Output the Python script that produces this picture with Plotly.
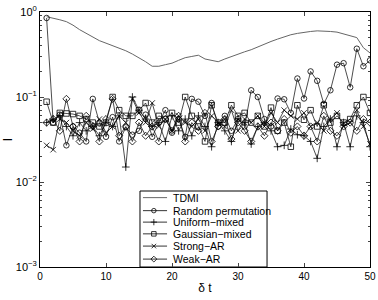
import plotly.graph_objects as go

x_vals = list(range(1, 51))

tdmi = [0.88, 0.85, 0.81, 0.77, 0.70, 0.62, 0.56, 0.51, 0.46, 0.43,
        0.40, 0.38, 0.35, 0.32, 0.29, 0.26, 0.23, 0.23, 0.24, 0.25,
        0.27, 0.29, 0.30, 0.31, 0.28, 0.27, 0.26, 0.28, 0.30, 0.32,
        0.34, 0.36, 0.39, 0.42, 0.45, 0.48, 0.51, 0.54, 0.56, 0.58,
        0.59, 0.60, 0.60, 0.59, 0.58, 0.55, 0.53, 0.50, 0.38, 0.33]

random_perm = [0.85, 0.05, 0.062, 0.027, 0.045, 0.038, 0.03, 0.095, 0.05, 0.034,
               0.058, 0.03, 0.044, 0.036, 0.04, 0.062, 0.034, 0.05, 0.07, 0.038,
               0.055, 0.034, 0.095, 0.088, 0.06, 0.085, 0.045, 0.06, 0.04, 0.055,
               0.045, 0.12, 0.1, 0.055, 0.045, 0.096, 0.094, 0.065, 0.165, 0.096,
               0.2, 0.155, 0.083, 0.12, 0.24, 0.25, 0.13, 0.37, 0.23, 0.27]

uniform_mixed = [0.05, 0.055, 0.06, 0.045, 0.035, 0.05, 0.04, 0.045, 0.035, 0.05,
                 0.045, 0.06, 0.015, 0.1, 0.07, 0.055, 0.045, 0.05, 0.03, 0.06,
                 0.04, 0.055, 0.035, 0.06, 0.045, 0.026, 0.05, 0.04, 0.03, 0.055,
                 0.05, 0.028, 0.045, 0.05, 0.04, 0.026, 0.027, 0.042, 0.036, 0.035,
                 0.03, 0.019, 0.045, 0.055, 0.026, 0.05, 0.026, 0.06, 0.05, 0.026]

gaussian_mixed = [0.088, 0.05, 0.065, 0.064, 0.063, 0.06, 0.055, 0.05, 0.045, 0.05,
                  0.1, 0.07, 0.06, 0.06, 0.07, 0.085, 0.05, 0.06, 0.055, 0.065,
                  0.05, 0.1, 0.06, 0.045, 0.03, 0.08, 0.05, 0.05, 0.08, 0.06,
                  0.065, 0.05, 0.06, 0.045, 0.075, 0.04, 0.05, 0.026, 0.08, 0.054,
                  0.07, 0.045, 0.08, 0.05, 0.06, 0.05, 0.055, 0.08, 0.1, 0.065]

strong_ar = [0.027, 0.024, 0.055, 0.05, 0.04, 0.035, 0.05, 0.042, 0.055, 0.038,
             0.045, 0.06, 0.05, 0.095, 0.065, 0.05, 0.085, 0.045, 0.055, 0.04,
             0.06, 0.05, 0.045, 0.055, 0.04, 0.06, 0.05, 0.045, 0.07, 0.04,
             0.055, 0.05, 0.06, 0.045, 0.065, 0.05, 0.07, 0.06, 0.055, 0.065,
             0.045, 0.05, 0.04, 0.055, 0.065, 0.045, 0.05, 0.07, 0.045, 0.028]

weak_ar = [0.05, 0.055, 0.04, 0.095, 0.045, 0.03, 0.06, 0.045, 0.03, 0.055,
           0.095, 0.035, 0.045, 0.03, 0.05, 0.035, 0.045, 0.03, 0.055, 0.04,
           0.06, 0.03, 0.05, 0.04, 0.065, 0.03, 0.045, 0.055, 0.032, 0.05,
           0.04, 0.03, 0.045, 0.035, 0.05, 0.04, 0.055, 0.038, 0.045, 0.035,
           0.045, 0.03, 0.06, 0.04, 0.035, 0.045, 0.05, 0.04, 0.055, 0.05]

x_ticks = [0, 10, 20, 30, 40, 50]
y_ticks = [0.001, 0.01, 0.1, 1]
y_tick_text = ["10<sup>\u22123</sup>", "10<sup>\u22122</sup>", "10<sup>\u22121</sup>", "10<sup>0</sup>"]

legend_names = ["TDMI", "Random permutation", "Uniform\u2212mixed",
                "Gaussian\u2212mixed", "Strong\u2212AR", "Weak\u2212AR"]
legend_symbols = [None, "circle-open", "cross-thin-open", "square-open",
                  "x-thin-open", "diamond-open"]
legend_colors = ["#666666", "black", "black", "black", "black", "black"]

font_family = "Liberation Sans, Arial, sans-serif"

fig = go.Figure()

# data traces
fig.add_trace(go.Scatter(x=x_vals, y=tdmi, mode="lines", showlegend=False,
                         line=dict(color=legend_colors[0], width=1)))
for name, vals, sym in zip(legend_names[1:],
                           [random_perm, uniform_mixed, gaussian_mixed, strong_ar, weak_ar],
                           legend_symbols[1:]):
    fig.add_trace(go.Scatter(
        x=x_vals, y=vals, mode="lines+markers", name=name, showlegend=False,
        line=dict(color="black", width=0.7),
        marker=dict(symbol=sym, size=5.5, color="black",
                    line=dict(color="black", width=0.8)),
    ))

# compact legend drawn on an overlay subplot with [0,1] fractional axes
lg_x0, lg_x1, lg_y0, lg_y1 = 0.303, 0.688, 0.0, 0.298
lg_rows = [0.272, 0.221, 0.176, 0.130, 0.082, 0.031]
lg_line_x = [0.312, 0.385]
lg_mark_x = 0.345
lg_text_x = 0.397

fig.add_trace(go.Scatter(
    x=[lg_x0, lg_x1, lg_x1, lg_x0, lg_x0], y=[lg_y0, lg_y0, lg_y1, lg_y1, lg_y0],
    xaxis="x2", yaxis="y2", mode="lines", fill="toself", fillcolor="white",
    line=dict(color="black", width=1), showlegend=False, hoverinfo="skip"))
for name, sym, col, ry in zip(legend_names, legend_symbols, legend_colors, lg_rows):
    fig.add_trace(go.Scatter(
        x=lg_line_x, y=[ry, ry], xaxis="x2", yaxis="y2", mode="lines",
        line=dict(color=col, width=0.8 if sym else 1), showlegend=False, hoverinfo="skip"))
    if sym:
        fig.add_trace(go.Scatter(
            x=[lg_mark_x], y=[ry], xaxis="x2", yaxis="y2", mode="markers",
            marker=dict(symbol=sym, size=4.5, color="black",
                        line=dict(color="black", width=0.8)),
            showlegend=False, hoverinfo="skip"))
    fig.add_annotation(x=lg_text_x, y=ry, xref="x2", yref="y2", text=name,
                       showarrow=False, xanchor="left", yanchor="middle",
                       font=dict(size=10.5, family=font_family, color="black"))

fig.update_layout(
    template="none",
    width=378, height=300,
    margin=dict(l=40, r=8, t=12, b=33, autoexpand=False),
    plot_bgcolor="white", paper_bgcolor="white",
    font=dict(family=font_family, size=11, color="black"),
    showlegend=False,
    hovermode=False,
    xaxis2=dict(overlaying="x", range=[0, 1], visible=False, fixedrange=True,
                automargin=False),
    yaxis2=dict(overlaying="y", range=[0, 1], visible=False, fixedrange=True,
                automargin=False),
)

minor_vals = [m * 10.0 ** e for e in range(-3, 0) for m in range(2, 10)]

fig.layout.xaxis.update(
    automargin=False,
    range=[0, 50], tickvals=x_ticks, ticks="inside", ticklen=4,
    tickfont=dict(size=10),
    showline=True, linecolor="black", linewidth=1, mirror="ticks",
    showgrid=False, zeroline=False,
    title=dict(text="\u03b4 t", font=dict(size=12), standoff=2),
)
fig.layout.yaxis.update(
    automargin=False,
    type="log", range=[-3, 0], tickvals=y_ticks, ticktext=y_tick_text,
    ticks="inside", ticklen=4, tickfont=dict(size=11),
    minor=dict(tickvals=minor_vals, ticks="inside", ticklen=2, showgrid=False),
    showline=True, linecolor="black", linewidth=1, mirror="ticks",
    showgrid=False, zeroline=False,
    title=dict(text="I", font=dict(size=12), standoff=0),
)

fig.write_html("out.html",
               config={"displayModeBar": False, "staticPlot": True},
               post_script="document.body.style.margin='0';document.body.style.overflow='hidden';")
